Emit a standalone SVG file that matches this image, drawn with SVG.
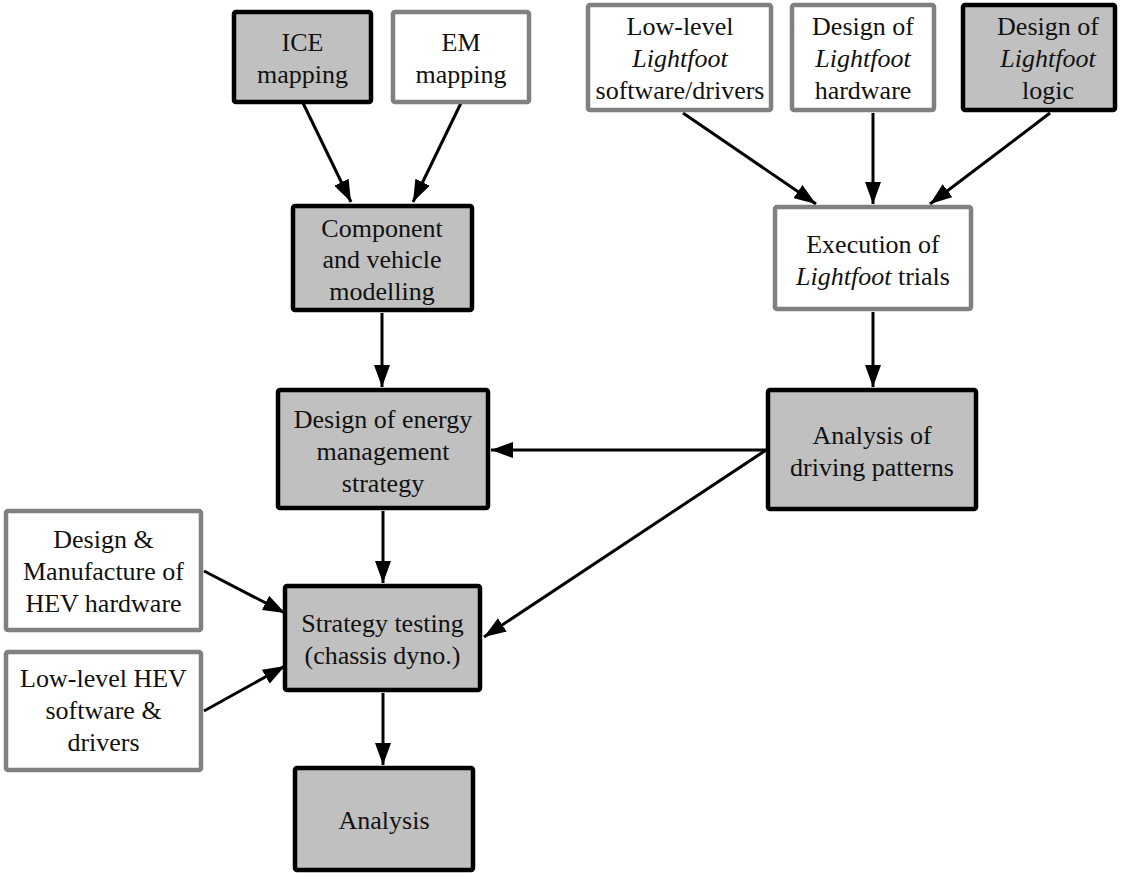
<svg xmlns="http://www.w3.org/2000/svg" width="1123" height="876" viewBox="0 0 1123 876">
<style>
.bk{fill:#c0c0c0;stroke:#000;stroke-width:4.5}
.gy{fill:#fff;stroke:#808080;stroke-width:4.5}
text{font-family:'Liberation Serif','DejaVu Serif',serif;font-size:26px;fill:#111;text-anchor:middle}
.i{font-style:italic}
.c{stroke:#000;stroke-width:3;fill:none;marker-end:url(#ah)}
</style>
<defs>
<marker id="ah" viewBox="0 0 22 16" refX="22" refY="8" markerWidth="22" markerHeight="16" markerUnits="userSpaceOnUse" orient="auto">
<path d="M0,0 L22,8 L0,16 z" fill="#000"/>
</marker>
</defs>
<rect width="1123" height="876" fill="#fff"/>
<g id="connectors">
<line class="c" x1="303" y1="103" x2="351" y2="202"/>
<line class="c" x1="461" y1="103" x2="413" y2="202"/>
<line class="c" x1="382" y1="313" x2="382" y2="387"/>
<line class="c" x1="683" y1="113" x2="816" y2="204"/>
<line class="c" x1="873" y1="113" x2="873" y2="204"/>
<line class="c" x1="1050" y1="113" x2="930" y2="204"/>
<line class="c" x1="873" y1="312" x2="873" y2="387"/>
<line class="c" x1="766" y1="450" x2="491" y2="450"/>
<line class="c" x1="766" y1="450" x2="484" y2="637"/>
<line class="c" x1="383" y1="511" x2="383" y2="583"/>
<line class="c" x1="204" y1="571" x2="285" y2="613"/>
<line class="c" x1="204" y1="711" x2="285" y2="666"/>
<line class="c" x1="383" y1="693" x2="383" y2="765"/>
</g>
<g id="ice"><rect class="bk" x="234" y="12" width="137" height="90" rx="2"/><text x="302.5" y="51">ICE</text><text x="302.5" y="83">mapping</text></g>
<g id="em"><rect class="gy" x="393" y="12" width="136" height="90" rx="2"/><text x="461" y="51">EM</text><text x="461" y="83">mapping</text></g>
<g id="llsw"><rect class="gy" x="588" y="5" width="183" height="105" rx="2"/><text x="680" y="35">Low-level</text><text x="680" y="67" class="i">Lightfoot</text><text x="680" y="99">software/drivers</text></g>
<g id="lfhw"><rect class="gy" x="792" y="5" width="142" height="105" rx="2"/><text x="863" y="35">Design of</text><text x="863" y="67" class="i">Lightfoot</text><text x="863" y="99">hardware</text></g>
<g id="lflogic"><rect class="bk" x="963" y="5" width="152" height="105" rx="2"/><text x="1048" y="35">Design of</text><text x="1048" y="67" class="i">Lightfoot</text><text x="1048" y="99">logic</text></g>
<g id="comp"><rect class="bk" x="293" y="206" width="179" height="104" rx="2"/><text x="382" y="237">Component</text><text x="382" y="268">and vehicle</text><text x="382" y="300">modelling</text></g>
<g id="exec"><rect class="gy" x="775" y="207" width="196" height="102" rx="2"/><text x="873" y="253">Execution of</text><text x="873" y="285"><tspan class="i">Lightfoot</tspan> trials</text></g>
<g id="ems"><rect class="bk" x="278" y="390" width="210" height="118" rx="2"/><text x="383" y="428">Design of energy</text><text x="383" y="460">management</text><text x="383" y="492">strategy</text></g>
<g id="adp"><rect class="bk" x="768" y="390" width="208" height="119" rx="2"/><text x="872" y="444">Analysis of</text><text x="872" y="476">driving patterns</text></g>
<g id="dmhw"><rect class="gy" x="6" y="511" width="195" height="119" rx="2"/><text x="103.5" y="548">Design &amp;</text><text x="103.5" y="580">Manufacture of</text><text x="103.5" y="612">HEV hardware</text></g>
<g id="strat"><rect class="bk" x="285" y="586" width="195" height="104" rx="2"/><text x="382.5" y="632">Strategy testing</text><text x="382.5" y="664">(chassis dyno.)</text></g>
<g id="llhev"><rect class="gy" x="6" y="652" width="195" height="118" rx="2"/><text x="103.5" y="687">Low-level HEV</text><text x="103.5" y="719">software &amp;</text><text x="103.5" y="751">drivers</text></g>
<g id="analysis"><rect class="bk" x="295" y="768" width="178" height="102" rx="2"/><text x="384" y="829">Analysis</text></g>
</svg>
